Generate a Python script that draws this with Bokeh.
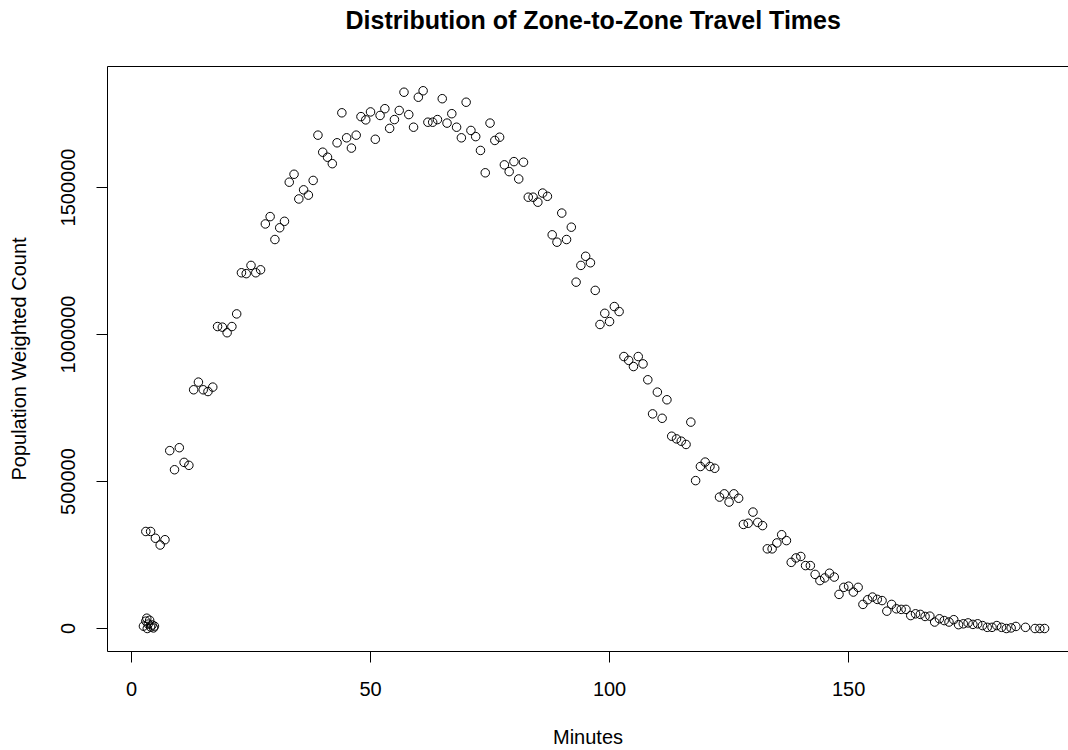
from bokeh.plotting import figure
from bokeh.models import Range1d, FixedTicker, NumeralTickFormatter, LinearAxis, ColumnDataSource
from bokeh.embed import file_html
from bokeh.resources import INLINE

# near-zero cluster (short intrazonal trips)
cluster_minutes = [2.5, 3.0, 3.2, 3.5, 3.8, 4.0, 4.3, 4.6, 4.8, 3.3]
cluster_counts = [8000, 25000, 35000, 15000, 28000, 5000, 12000, 2000, 8000, 0]

minutes = list(range(3, 186)) + [187, 189, 190, 191]
counts = [
    330000, 330000, 307000, 284000, 302000,
    605000, 540000, 615000, 565000, 555000,
    812000, 838000, 812000, 806000, 821000,
    1027000, 1025000, 1006000, 1027000, 1070000,
    1210000, 1207000, 1235000, 1210000, 1220000,
    1376000, 1401000, 1323000, 1363000, 1385000,
    1518000, 1545000, 1461000, 1492000, 1474000,
    1524000, 1678000, 1620000, 1603000, 1581000,
    1652000, 1754000, 1669000, 1634000, 1678000,
    1741000, 1730000, 1757000, 1664000, 1745000,
    1768000, 1701000, 1731000, 1762000, 1824000,
    1748000, 1705000, 1807000, 1829000, 1722000,
    1722000, 1731000, 1802000, 1719000, 1751000,
    1705000, 1669000, 1790000, 1694000, 1673000,
    1626000, 1550000, 1719000, 1660000, 1671000,
    1577000, 1554000, 1588000, 1529000, 1586000,
    1467000, 1467000, 1450000, 1481000, 1470000,
    1339000, 1314000, 1413000, 1323000, 1365000,
    1178000, 1235000, 1266000, 1244000, 1150000,
    1034000, 1072000, 1044000, 1095000, 1078000,
    925000, 912000, 891000, 925000, 900000,
    846000, 730000, 804000, 715000, 778000,
    654000, 645000, 637000, 626000, 702000,
    503000, 551000, 566000, 551000, 545000,
    447000, 458000, 430000, 458000, 443000,
    354000, 358000, 396000, 361000, 350000,
    271000, 271000, 291000, 319000, 299000,
    225000, 240000, 245000, 214000, 214000,
    184000, 163000, 172000, 188000, 175000,
    116000, 140000, 144000, 124000, 140000,
    82000, 98000, 107000, 99000, 95000,
    59000, 82000, 67000, 65000, 65000,
    44000, 50000, 48000, 41000, 42000,
    22000, 33000, 27000, 22000, 30000,
    13000, 16000, 19000, 14000, 16000,
    10000, 4000, 4000, 10000, 4000,
    0, 2000, 7000, 4000, 0, 0, 0,
]

x_ticks = [0, 50, 100, 150]
y_ticks = [0, 500000, 1000000, 1500000]

title_text = "Distribution of Zone-to-Zone Travel Times"
x_label = "Minutes"
y_label = "Population Weighted Count"

FONT = "Liberation Sans"

all_x = cluster_minutes + minutes
all_y = cluster_counts + counts

p = figure(width=1068, height=750, output_backend="svg", toolbar_location=None,
           x_range=Range1d(-5.02, 196.0), y_range=Range1d(-78200, 1911500),
           min_border_left=107, min_border_right=0, min_border_top=66, min_border_bottom=99,
           title=title_text)

p.background_fill_color = "white"
p.border_fill_color = "white"
p.outline_line_color = None
p.grid.visible = False

p.title.text_font = FONT
p.title.text_font_size = "25px"
p.title.text_font_style = "bold"
p.title.text_color = "black"
p.title.align = "left"
p.title.offset = 238
p.title.standoff = 6

src = ColumnDataSource(dict(x=all_x, y=all_y))
p.scatter("x", "y", source=src, marker="circle", size=8.5, fill_color=None,
          line_color="black", line_width=1)

for ax in (p.xaxis[0], p.yaxis[0]):
    ax.axis_line_color = "black"
    ax.axis_line_width = 1
    ax.major_tick_line_color = "black"
    ax.major_tick_in = 0
    ax.major_tick_out = 11
    ax.minor_tick_line_color = None
    ax.major_label_text_font = FONT
    ax.major_label_text_font_size = "20px"
    ax.major_label_text_color = "black"
    ax.axis_label_text_font = FONT
    ax.axis_label_text_font_size = "20px"
    ax.axis_label_text_font_style = "normal"
    ax.axis_label_text_color = "black"

p.xaxis[0].ticker = FixedTicker(ticks=x_ticks)
p.yaxis[0].ticker = FixedTicker(ticks=y_ticks)
p.yaxis[0].formatter = NumeralTickFormatter(format="0")
p.yaxis[0].major_label_orientation = "vertical"
p.xaxis[0].axis_label = x_label
p.yaxis[0].axis_label = y_label
p.xaxis[0].major_label_standoff = 19
p.xaxis[0].axis_label_standoff = 27
p.yaxis[0].major_label_standoff = 21
p.yaxis[0].axis_label_standoff = 29

# top edge of the box; its (blank) label only reserves space under the title
top = LinearAxis(ticker=FixedTicker(ticks=[]), major_label_text_font_size="0px",
                 major_tick_out=0, major_tick_in=0, minor_tick_out=0, minor_tick_in=0,
                 major_label_standoff=0, axis_line_color="black",
                 axis_label=" ", axis_label_text_font_size="1px", axis_label_standoff=26)
p.add_layout(top, "above")

open("out.html", "w").write(file_html(p, INLINE))
